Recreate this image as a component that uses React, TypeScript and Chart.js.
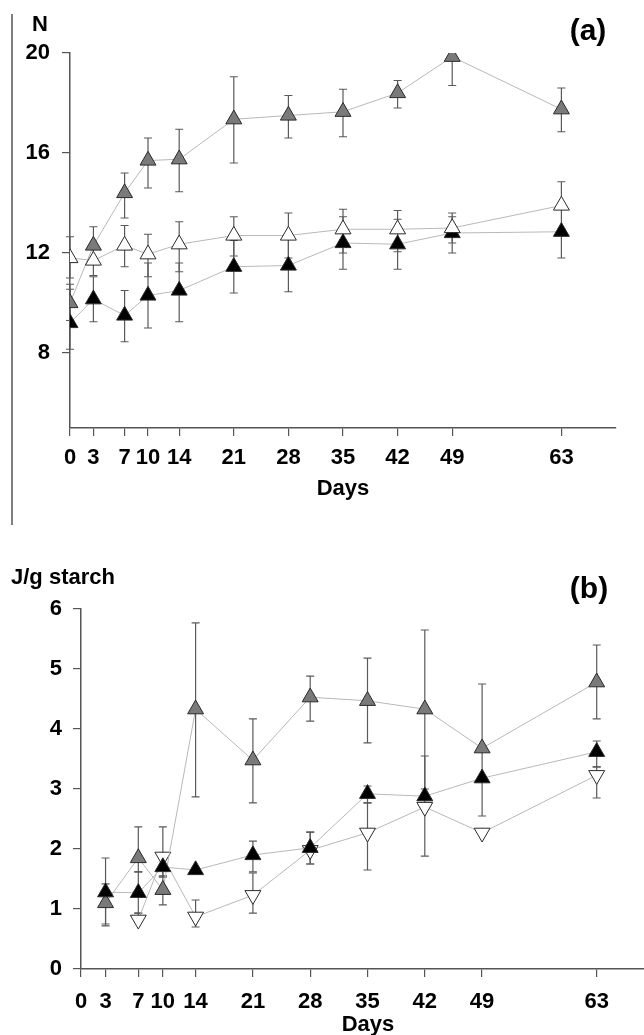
import React, { useEffect, useRef } from 'react';
import { Chart, registerables } from 'chart.js';

Chart.register(...registerables);

// ---------- Panel (a): N ----------
const DAYS_A = [0, 3, 7, 10, 14, 21, 28, 35, 42, 49, 63];
const GRAY_A = [10.0, 12.3, 14.4, 15.7, 15.75, 17.35, 17.5, 17.65, 18.4, 19.85, 17.75];
const GRAY_A_LO = [9.3, 11.6, 13.4, 14.6, 14.45, 15.6, 16.6, 16.65, 17.8, 18.7, 16.85];
const GRAY_A_HI = [10.75, 13.05, 15.2, 16.6, 16.95, 19.05, 18.3, 18.55, 18.9, 19.85, 18.6];
const BLACK_A = [9.2, 10.15, 9.5, 10.3, 10.5, 11.45, 11.5, 12.4, 12.35, 12.8, 12.85];
const BLACK_A_LO = [8.15, 9.25, 8.45, 9.0, 9.25, 10.4, 10.45, 11.35, 11.35, 12.0, 11.8];
const BLACK_A_HI = [10.55, 11.05, 10.5, 11.6, 11.6, 12.5, 12.55, 13.45, 13.35, 13.45, 12.85];
const WHITE_A = [11.8, 11.7, 12.3, 11.95, 12.35, 12.7, 12.7, 12.95, 12.95, 13.0, 13.9];
const WHITE_A_LO = [11.0, 11.1, 11.45, 11.05, 11.25, 11.88, 11.8, 12.0, 12.05, 12.4, 12.95];
const WHITE_A_HI = [12.65, 12.3, 13.1, 12.75, 13.25, 13.45, 13.6, 13.75, 13.7, 13.6, 14.85];
const X_TICKS = [0, 3, 7, 10, 14, 21, 28, 35, 42, 49, 63];
const Y_TICKS_A = [8, 12, 16, 20];

// ---------- Panel (b): J/g starch ----------
const DAYS_B = [3, 7, 10, 14, 21, 28, 35, 42, 49, 63];
const GRAY_B = [1.1, 1.85, 1.32, 4.33, 3.48, 4.53, 4.47, 4.33, 3.68, 4.78];
const GRAY_B_LO = [0.75, 1.62, 1.07, 2.87, 2.77, 4.13, 3.77, 3.0, 2.55, 4.17];
const GRAY_B_HI = [1.85, 2.37, 1.55, 5.77, 4.17, 4.88, 5.18, 5.65, 4.75, 5.4];
const BLACK_B = [1.28, 1.27, 1.7, 1.65, 1.9, 2.02, 2.92, 2.88, 3.18, 3.62];
const BLACK_B_LO = [0.72, 0.93, 1.53, 1.65, 1.62, 1.75, 2.77, 1.88, 3.18, 3.37];
const BLACK_B_HI = [1.42, 1.62, 1.9, 1.65, 2.13, 2.28, 3.05, 3.55, 3.18, 3.8];
const DAYS_B_WHITE = [7, 10, 14, 21, 28, 35, 42, 49, 63];
const WHITE_B = [0.82, 1.87, 0.87, 1.23, 1.98, 2.27, 2.7, 2.27, 3.23];
const WHITE_B_LO = [0.82, 1.55, 0.7, 0.93, 1.75, 1.65, 2.7, 2.27, 2.85];
const WHITE_B_HI = [0.93, 2.37, 1.15, 1.6, 2.28, 2.77, 2.7, 2.27, 3.37];
const Y_TICKS_B = [0, 1, 2, 3, 4, 5, 6];

const FONT = "'Liberation Sans', Arial, sans-serif";
const AXIS_COLOR = '#555555';
const LINE_COLOR = '#b8b8b8';
const ERR_COLOR = '#5a5a5a';

const pts = (xs: number[], ys: number[]) => xs.map((x, i) => ({ x, y: ys[i] }));

const errorBars = {
  id: 'errorBars',
  beforeDatasetsDraw(chart: any) {
    const ctx = chart.ctx;
    const xs = chart.scales.x;
    const ys = chart.scales.y;
    ctx.save();
    ctx.strokeStyle = ERR_COLOR;
    ctx.lineWidth = 1.2;
    chart.data.datasets.forEach((ds: any) => {
      ds.data.forEach((p: any, i: number) => {
        const x = xs.getPixelForValue(p.x);
        const y0 = ys.getPixelForValue(p.y);
        [ds.hi[i], ds.lo[i]].forEach((v: number) => {
          if (v == null || Math.abs(v - p.y) < 1e-6) return;
          const y1 = ys.getPixelForValue(v);
          ctx.beginPath();
          ctx.moveTo(x, y0);
          ctx.lineTo(x, y1);
          ctx.moveTo(x - 4, y1);
          ctx.lineTo(x + 4, y1);
          ctx.stroke();
        });
      });
    });
    ctx.restore();
  },
};

const textsPlugin = {
  id: 'texts',
  afterDraw(chart: any) {
    const items = chart.options.plugins.texts?.items || [];
    const lines = chart.options.plugins.texts?.lines || [];
    const ctx = chart.ctx;
    ctx.save();
    lines.forEach((l: any) => {
      ctx.strokeStyle = l.color;
      ctx.lineWidth = l.width;
      ctx.beginPath();
      ctx.moveTo(l.x1, l.y1);
      ctx.lineTo(l.x2, l.y2);
      ctx.stroke();
    });
    items.forEach((t: any) => {
      ctx.fillStyle = '#000';
      ctx.font = `bold ${t.size}px ${FONT}`;
      ctx.textAlign = t.align || 'center';
      ctx.textBaseline = 'middle';
      ctx.fillText(t.text, t.x, t.y);
    });
    ctx.restore();
  },
};

function makeDataset(data: any[], lo: number[], hi: number[], fill: string, rotation = 0) {
  return {
    data,
    lo,
    hi,
    borderColor: LINE_COLOR,
    borderWidth: 1,
    pointStyle: 'triangle',
    pointRotation: rotation,
    pointRadius: 9.2,
    pointBackgroundColor: fill,
    pointBorderColor: '#2a2a2a',
    pointBorderWidth: 1,
    fill: false,
    tension: 0,
  };
}

function makeScales(opts: {
  yTicks: number[];
  yMin: number;
  yMax: number;
  xMax: number;
  yWidth: number;
  xHeight: number;
  xPad: number;
  yPad: number;
}) {
  const tickFont = { family: FONT, size: 22, weight: 'bold' as const };
  const grid = {
    display: true,
    drawOnChartArea: false,
    drawTicks: true,
    tickLength: 8,
    color: AXIS_COLOR,
    lineWidth: 1.2,
  };
  const border = { display: true, color: AXIS_COLOR, width: 1.5 };
  return {
    x: {
      type: 'linear' as const,
      min: 0,
      max: opts.xMax,
      grid,
      border,
      afterBuildTicks: (s: any) => {
        s.ticks = X_TICKS.map((v) => ({ value: v }));
      },
      afterFit: (s: any) => {
        s.height = opts.xHeight;
      },
      ticks: {
        font: tickFont,
        color: '#000',
        padding: opts.xPad,
        maxRotation: 0,
        autoSkip: false,
        callback: (v: any) => String(v),
      },
    },
    y: {
      type: 'linear' as const,
      min: opts.yMin,
      max: opts.yMax,
      grid,
      border,
      afterBuildTicks: (s: any) => {
        s.ticks = opts.yTicks.map((v) => ({ value: v }));
      },
      afterFit: (s: any) => {
        s.width = opts.yWidth;
      },
      ticks: {
        font: tickFont,
        color: '#000',
        padding: opts.yPad,
        callback: (v: any) => String(v),
      },
    },
  };
}

export default function App() {
  const refA = useRef<HTMLCanvasElement>(null);
  const refB = useRef<HTMLCanvasElement>(null);

  useEffect(() => {
    const chartA = new Chart(refA.current as HTMLCanvasElement, {
      type: 'line',
      data: {
        datasets: [
          makeDataset(pts(DAYS_A, WHITE_A), WHITE_A_LO, WHITE_A_HI, '#ffffff'),
          makeDataset(pts(DAYS_A, BLACK_A), BLACK_A_LO, BLACK_A_HI, '#000000'),
          makeDataset(pts(DAYS_A, GRAY_A), GRAY_A_LO, GRAY_A_HI, '#7a7a7a'),
        ] as any,
      },
      options: {
        animation: false,
        responsive: false,
        maintainAspectRatio: false,
        devicePixelRatio: 1,
        layout: { padding: { top: 53, right: 28, left: 0, bottom: 0 } },
        plugins: {
          legend: { display: false },
          tooltip: { enabled: false },
          texts: {
            items: [
              { text: 'N', x: 40, y: 25, size: 22 },
              { text: '(a)', x: 588, y: 32, size: 30 },
              { text: 'Days', x: 343, y: 489, size: 22 },
            ],
            lines: [{ x1: 12, y1: 14, x2: 12, y2: 525, color: '#555', width: 1.5 }],
          },
        } as any,
        scales: makeScales({
          yTicks: Y_TICKS_A,
          yMin: 5,
          yMax: 20,
          xMax: 70,
          yWidth: 70,
          xHeight: 97,
          xPad: 9,
          yPad: 12,
        }) as any,
      },
      plugins: [errorBars, textsPlugin],
    });

    const chartB = new Chart(refB.current as HTMLCanvasElement, {
      type: 'line',
      data: {
        datasets: [
          makeDataset(pts(DAYS_B, BLACK_B), BLACK_B_LO, BLACK_B_HI, '#000000'),
          makeDataset(pts(DAYS_B, GRAY_B), GRAY_B_LO, GRAY_B_HI, '#7a7a7a'),
          makeDataset(pts(DAYS_B_WHITE, WHITE_B), WHITE_B_LO, WHITE_B_HI, '#ffffff', 180),
        ] as any,
      },
      options: {
        animation: false,
        responsive: false,
        maintainAspectRatio: false,
        devicePixelRatio: 1,
        layout: { padding: { top: 79, right: 16, left: 0, bottom: 0 } },
        plugins: {
          legend: { display: false },
          tooltip: { enabled: false },
          texts: {
            items: [
              { text: 'J/g starch', x: 11, y: 48, size: 22, align: 'left' },
              { text: '(b)', x: 589, y: 60, size: 30 },
              { text: 'Days', x: 368, y: 495, size: 22 },
            ],
            lines: [],
          },
        } as any,
        scales: makeScales({
          yTicks: Y_TICKS_B,
          yMin: 0,
          yMax: 6,
          xMax: 70,
          yWidth: 81,
          xHeight: 66,
          xPad: 12,
          yPad: 11,
        }) as any,
      },
      plugins: [errorBars, textsPlugin],
    });

    return () => {
      chartA.destroy();
      chartB.destroy();
    };
  }, []);

  return (
    <div
      style={{
        position: 'absolute',
        left: 0,
        top: 0,
        width: 644,
        height: 1035,
        overflow: 'hidden',
        background: '#fff',
      }}
    >
      <canvas
        ref={refA}
        width={644}
        height={525}
        style={{ position: 'absolute', left: 0, top: 0, width: 644, height: 525 }}
      />
      <canvas
        ref={refB}
        width={670}
        height={505}
        style={{ position: 'absolute', left: 0, top: 530, width: 670, height: 505 }}
      />
    </div>
  );
}
